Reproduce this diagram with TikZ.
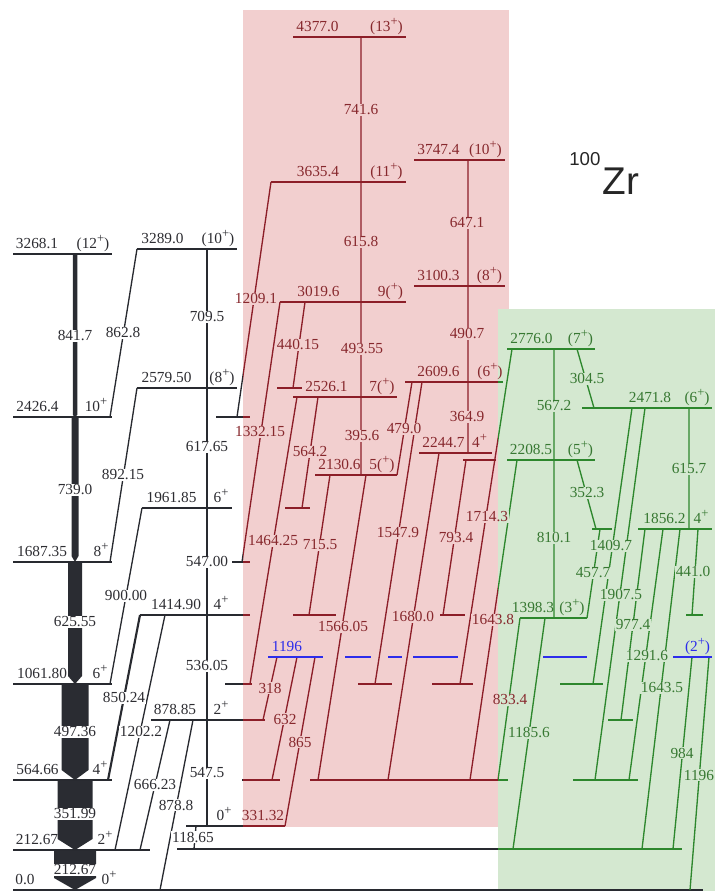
\documentclass[tikz,border=0pt]{standalone}
\usepackage{fontspec}
\setmainfont{Liberation Serif}
\newfontfamily\zrfont{Liberation Sans}
\definecolor{lgray}{RGB}{40,42,48}
\definecolor{lred}{RGB}{140,30,40}
\definecolor{lgreen}{RGB}{45,135,45}
\definecolor{tgray}{RGB}{45,45,50}
\definecolor{tred}{RGB}{135,40,45}
\definecolor{tgreen}{RGB}{55,120,50}
\definecolor{pinkbg}{RGB}{242,207,207}
\definecolor{greenbg}{RGB}{212,232,208}
\definecolor{lblue}{RGB}{45,45,235}
\definecolor{arrc}{RGB}{42,44,50}
\newif\ifbgmode
\colorlet{bgc}{white}
\newcommand{\plusup}{\raisebox{0.42em}{\fontsize{9.5}{9.5}\selectfont +}}
\newcommand{\TL}[4]{\ifbgmode\node[lab,fill=bgc] at (#1,#2) {\phantom{#3}};\else\node[lab,text=#4] at (#1,#2) {#3};\fi}
\newcommand{\LL}[4]{\node[lab,text=#4,anchor=base] at (#1,#2-5.5) {#3};}
\newcommand{\garrow}[5]{\fill[arrc] (#1-#4/2,#2)--(#1+#4/2,#2)--(#1+#4/2,#3-#5)--(#1,#3)--(#1-#4/2,#3-#5)--cycle;}
\newcommand{\schemelines}{%
 % levels, left and second column
 \draw[lev] (13,254)--(112,254) (13,417)--(112,417) (13,562)--(112,562) (13,684)--(112,684) (13,780)--(112,780) (13,850)--(150,850);
 \draw[lev] (137,249)--(237,249) (137,388)--(237,388) (142,508)--(232,508) (140,615)--(250,615) (151,720)--(265,720) (186,826)--(285,826);
 % level extensions
 \draw[lev] (216,417)--(250,417) (232,562)--(250,562) (277,388)--(302,388) (285,508)--(310,508)
   (225,684)--(252,684) (358,684)--(392,684) (432,684)--(473,684) (560,684)--(603,684)
   (293,615)--(336,615) (440,615)--(465,615) (686,615)--(703,615)
   (608,720)--(633,720)
   (242,780)--(280,780) (310,780)--(508,780) (573,780)--(638,780)
   (177,849)--(682,849) (463,460)--(496,460) (592,529)--(612,529);
 % red band levels
 \draw[lev] (293,37)--(406,37) (271,182)--(406,182) (414,160)--(505,160) (414,286)--(505,286)
   (280,302)--(406,302) (293,397)--(397,397) (315,475)--(397,475) (405,382)--(503,382) (419,453)--(492,453);
 % green band levels
 \draw[lev] (507,349)--(595,349) (582,408)--(712,408) (507,460)--(595,460) (638,529)--(712,529) (520,618)--(587,618);
 % transitions, second column
 \draw[tr] (207,249)--(207,826);
 \draw[tr] (137,249)--(110,417) (137,388)--(110,562) (142,508)--(110,684)
   (165,615)--(115,850) (170,720)--(140,850) (193,720)--(160,890) (196,826)--(194,849);
 \draw[tr,line width=1.6pt] (140,615)--(108,780);
 % transitions, red band
 \draw[tr] (361,37)--(361,475) (468,160)--(468,453)
   (271,182)--(237,417) (280,302)--(242,562) (305,302)--(293,388) (318,397)--(302,508)
   (297,397)--(250,684) (330,475)--(309,615) (366,475)--(318,780) (412,382)--(397,475)
   (422,382)--(375,684) (439,453)--(388,780) (466,460)--(443,615)
   (277,657)--(263,720) (297,657)--(272,780) (315,657)--(285,826);
 % transitions, green band
 \draw[tr] (512,349)--(460,684) (517,460)--(470,780) (554,349)--(554,618)
   (577,349)--(594,408) (577,460)--(596,529) (689,408)--(689,529)
   (632,408)--(593,684) (645,408)--(595,780) (600,529)--(587,618)
   (645,529)--(621,720) (663,529)--(629,780) (680,529)--(642,849)
   (698,529)--(692,615) (520,618)--(498,780) (545,618)--(513,849)
   (692,657)--(673,849) (709,657)--(690,890);
}
\newcommand{\alltl}{%
 \TL{75}{336}{841.7}{tgray}
 \TL{75}{490}{739.0}{tgray}
 \TL{75}{622}{625.55}{tgray}
 \TL{75}{732}{497.36}{tgray}
 \TL{75}{814}{351.99}{tgray}
 \TL{75}{870}{212.67}{tgray}
 \TL{123}{333}{862.8}{tgray}
 \TL{123}{475}{892.15}{tgray}
 \TL{126}{596}{900.00}{tgray}
 \TL{124}{698}{850.24}{tgray}
 \TL{141}{732}{1202.2}{tgray}
 \TL{155}{785}{666.23}{tgray}
 \TL{176}{805}{878.8}{tgray}
 \TL{207}{317}{709.5}{tgray}
 \TL{207}{447}{617.65}{tgray}
 \TL{207}{562}{547.00}{tgray}
 \TL{207}{666}{536.05}{tgray}
 \TL{207}{773}{547.5}{tgray}
 \TL{193}{837}{118.65}{tgray}
 \TL{361}{110}{741.6}{tred}
 \TL{361}{242}{615.8}{tred}
 \TL{467}{223}{647.1}{tred}
 \TL{256}{299}{1209.1}{tred}
 \TL{298}{345}{440.15}{tred}
 \TL{362}{349}{493.55}{tred}
 \TL{467}{334}{490.7}{tred}
 \TL{260}{432}{1332.15}{tred}
 \TL{362}{436}{395.6}{tred}
 \TL{404}{429}{479.0}{tred}
 \TL{467}{417}{364.9}{tred}
 \TL{310}{452}{564.2}{tred}
 \TL{487}{517}{1714.3}{tred}
 \TL{398}{533}{1547.9}{tred}
 \TL{456}{538}{793.4}{tred}
 \TL{273}{541}{1464.25}{tred}
 \TL{320}{545}{715.5}{tred}
 \TL{413}{617}{1680.0}{tred}
 \TL{493}{620}{1643.8}{tred}
 \TL{343}{627}{1566.05}{tred}
 \TL{270}{688}{318}{tred}
 \TL{285}{719}{632}{tred}
 \TL{300}{742}{865}{tred}
 \TL{587}{379}{304.5}{tgreen}
 \TL{554}{406}{567.2}{tgreen}
 \TL{689}{469}{615.7}{tgreen}
 \TL{587}{493}{352.3}{tgreen}
 \TL{554}{538}{810.1}{tgreen}
 \TL{611}{546}{1409.7}{tgreen}
 \TL{593}{573}{457.7}{tgreen}
 \TL{693}{572}{441.0}{tgreen}
 \TL{621}{595}{1907.5}{tgreen}
 \TL{633}{625}{977.4}{tgreen}
 \TL{647}{656}{1291.6}{tgreen}
 \TL{662}{688}{1643.5}{tgreen}
 \TL{510}{700}{833.4}{tred}
 \TL{529}{733}{1185.6}{tgreen}
 \TL{682}{753}{984}{tgreen}
 \TL{699}{775}{1196}{tgreen}
}
\begin{document}
\begin{tikzpicture}[x=0.75pt,y=-0.75pt,
  lev/.style={line width=1.3pt},
  tr/.style={line width=1.0pt},
  lab/.style={font=\fontsize{11.5}{13}\selectfont,inner sep=0.6pt}]
\useasboundingbox (0,0) rectangle (715,891);
% background bands
\fill[pinkbg] (243,10) rectangle (509,827);
\fill[greenbg] (498,309) rectangle (715,891);
% intense ground band
\garrow{75}{254}{417}{4.5}{2}
\garrow{75}{417}{562}{7}{6}
\garrow{75}{562}{684}{14}{8}
\garrow{75}{684}{780}{27}{10}
\garrow{75}{780}{850}{35}{11}
\garrow{75}{850}{890}{42}{12}
\draw[lev,lgray] (13,890)--(703,890);
% lines and label backgrounds, coloured by band
\begin{scope}[color=lgray]
 \clip (0,0)--(715,0)--(715,309)--(509,309)--(509,10)--(243,10)--(243,827)--(498,827)--(498,891)--(0,891)--cycle;
 \colorlet{bgc}{white}
 \schemelines
 \bgmodetrue\alltl
\end{scope}
\begin{scope}[color=lred]
 \clip (243,10)--(509,10)--(509,309)--(498,309)--(498,827)--(243,827)--cycle;
 \colorlet{bgc}{pinkbg}
 \schemelines
 \bgmodetrue\alltl
\end{scope}
\begin{scope}[color=lgreen]
 \clip (498,309) rectangle (715,891);
 \colorlet{bgc}{greenbg}
 \schemelines
 \bgmodetrue\alltl
\end{scope}
% 1196 keV (2+) level
\draw[lev,lblue] (268,657)--(323,657) (345,657)--(371,657) (388,657)--(402,657) (413,657)--(458,657)
  (543,657)--(587,657) (673,657)--(712,657);
% transition labels
\bgmodefalse\alltl
% level labels
\LL{37}{254}{3268.1}{tgray} \LL{93}{254}{(12\plusup)}{tgray}
\LL{37.5}{417}{2426.4}{tgray} \LL{96}{417}{10\plusup}{tgray}
\LL{42}{562}{1687.35}{tgray} \LL{101}{562}{8\plusup}{tgray}
\LL{42}{684}{1061.80}{tgray} \LL{100}{684}{6\plusup}{tgray}
\LL{37.5}{780}{564.66}{tgray} \LL{100}{780}{4\plusup}{tgray}
\LL{37}{850}{212.67}{tgray} \LL{105}{850}{2\plusup}{tgray}
\LL{25}{890}{0.0}{tgray} \LL{109}{890}{0\plusup}{tgray}
\LL{162.5}{249}{3289.0}{tgray} \LL{218}{249}{(10\plusup)}{tgray}
\LL{166.5}{388}{2579.50}{tgray} \LL{222}{388}{(8\plusup)}{tgray}
\LL{171.5}{508}{1961.85}{tgray} \LL{221}{508}{6\plusup}{tgray}
\LL{176}{615}{1414.90}{tgray} \LL{221}{615}{4\plusup}{tgray}
\LL{175}{720}{878.85}{tgray} \LL{221}{720}{2\plusup}{tgray}
\LL{224}{826}{0\plusup}{tgray} \LL{263}{826}{331.32}{tred}
\LL{317.5}{37}{4377.0}{tred} \LL{386.5}{37}{(13\plusup)}{tred}
\LL{318}{182}{3635.4}{tred} \LL{386.5}{182}{(11\plusup)}{tred}
\LL{438.5}{160}{3747.4}{tred} \LL{485.5}{160}{(10\plusup)}{tred}
\LL{438.5}{286}{3100.3}{tred} \LL{489.5}{286}{(8\plusup)}{tred}
\LL{318.5}{302}{3019.6}{tred} \LL{390.5}{302}{9(\plusup)}{tred}
\LL{326.5}{397}{2526.1}{tred} \LL{382}{397}{7(\plusup)}{tred}
\LL{438.5}{382}{2609.6}{tred} \LL{490}{382}{(6\plusup)}{tred}
\LL{339.5}{475}{2130.6}{tred} \LL{382}{475}{5(\plusup)}{tred}
\LL{443.5}{453}{2244.7}{tred} \LL{479.5}{453}{4\plusup}{tred}
\LL{531.5}{349}{2776.0}{tgreen} \LL{580.5}{349}{(7\plusup)}{tgreen}
\LL{650}{408}{2471.8}{tgreen} \LL{697}{408}{(6\plusup)}{tgreen}
\LL{531}{460}{2208.5}{tgreen} \LL{580.5}{460}{(5\plusup)}{tgreen}
\LL{664.5}{529}{1856.2}{tgreen} \LL{701}{529}{4\plusup}{tgreen}
\LL{533}{618}{1398.3}{tgreen} \LL{572}{618}{(3\plusup)}{tgreen}
\LL{287}{657}{1196}{lblue} \LL{697.5}{657}{(2\plusup)}{lblue}
% nucleus label
\node[anchor=base west,inner sep=0,text=black!85] (zr) at (569,195)
  {\zrfont\fontsize{14}{16}\selectfont\raisebox{22pt}{100}\kern1.5pt\fontsize{29}{31}\selectfont Zr};
\end{tikzpicture}
\end{document}
